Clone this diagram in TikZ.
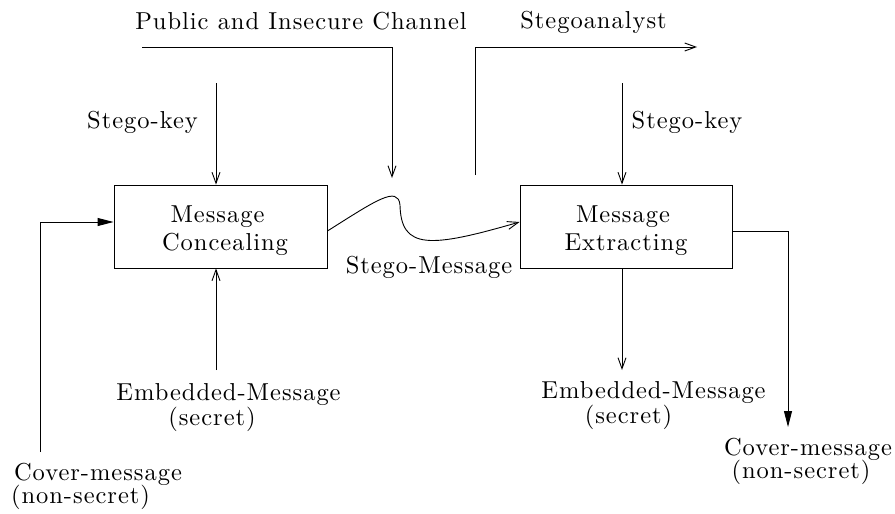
\documentclass[tikz,border=0pt]{standalone}
\usepackage{fontspec}
\usetikzlibrary{arrows.meta}
% Latin Modern at its 10pt design size, scaled up and slightly tracked
\newfontfamily\diagfamily{lmroman10-regular}[Extension=.otf,LetterSpace=4]
\newcommand\diagfont{\diagfamily\fontsize{24.5}{28}\selectfont}
\begin{document}
\begin{tikzpicture}[x=1pt,y=-1pt,
  wire/.style={line width=0.9pt},
  openarrow/.style={wire,-{Straight Barb[length=11pt,width=8pt]}},
  fillarrow/.style={wire,-{Triangle[length=16pt,width=8pt]}},
  procbox/.style={draw,line width=0.9pt,minimum width=213pt,minimum height=83pt,inner sep=0pt},
  txt/.style={inner sep=0pt,anchor=base,font=\diagfont}]
\useasboundingbox (0,0) rectangle (895,514);

% processing blocks
\node[procbox] (conceal) at (220.5,226.5) {};
\node[procbox,minimum width=212pt] (extract) at (626,226.5) {};
\node[txt] (concealA) at (217.5,222) {Message};
\node[txt] (concealB) at (225,250) {Concealing};
\node[txt] (extractA) at (623,222) {Message};
\node[txt] (extractB) at (626,250) {Extracting};

% labels
\node[txt] (channel) at (301,29) {Public and Insecure Channel};
\node[txt] (analyst) at (593.5,28.5) {Stegoanalyst};
\node[txt] (keyLtxt) at (142.5,128) {Stego-key};
\node[txt] (keyRtxt) at (687,128) {Stego-key};
\node[txt] (stegomsg) at (429,273) {Stego-Message};
\node[txt] (embLA) at (228.5,400) {Embedded-Message};
\node[txt] (embLB) at (212,425) {(secret)};
\node[txt] (embRA) at (653.5,398) {Embedded-Message};
\node[txt] (embRB) at (628.5,423) {(secret)};
\node[txt] (covLA) at (98,480) {Cover-message};
\node[txt] (covLB) at (80.5,503) {(non-secret)};
\node[txt] (covRA) at (808,455) {Cover-message};
\node[txt] (covRB) at (801,478) {(non-secret)};

% free ends of the connectors
\coordinate (chanStart) at (142,47);
\coordinate (chanCorner) at (392,47);
\coordinate (chanEnd) at (392,178);
\coordinate (anaStart) at (475,175);
\coordinate (anaCorner) at (475,47);
\coordinate (anaEnd) at (697,47);
\coordinate (keyL) at (216,83);
\coordinate (keyR) at (622,83);
\coordinate (embL) at (216,370);
\coordinate (embR) at (622,370);
\coordinate (covL) at (40,452);
\coordinate (covLcorner) at (40,222);
\coordinate (covRstart) at (732,231);
\coordinate (covRcorner) at (788,231);
\coordinate (covRend) at (788,427);

% channel and eavesdropper
\draw[openarrow] (chanStart) -- (chanCorner) -- (chanEnd);
\draw[openarrow] (anaStart) -- (anaCorner) -- (anaEnd);

% keys
\draw[openarrow] (keyL) -- (keyL |- conceal.north);
\draw[openarrow] (keyR) -- (keyR |- extract.north);

% embedded messages
\draw[openarrow] (embL) -- (embL |- conceal.south);
\draw[openarrow] (embR |- extract.south) -- (embR);

% cover messages
\draw[fillarrow] (covL) -- (covLcorner) -- (covLcorner -| conceal.west);
\draw[fillarrow] (covRstart) -- (covRcorner) -- (covRend);

% stego message travelling over the channel
\draw[openarrow] (conceal.east |- 0,231) .. controls (375,201) and (398,185) .. (400,205)
  .. controls (401,250) and (430,248) .. (extract.west |- 0,222);
\end{tikzpicture}
\end{document}
